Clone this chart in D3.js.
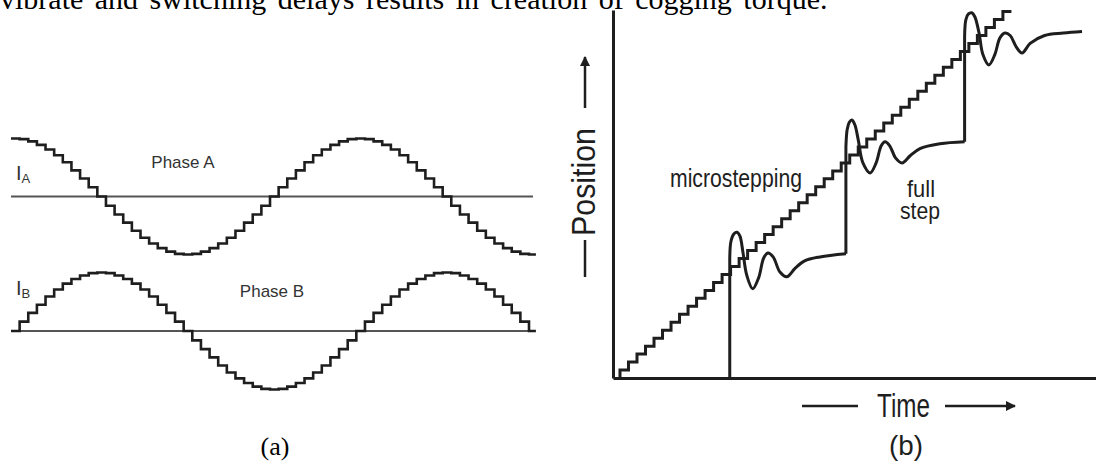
<!DOCTYPE html>
<html>
<head>
<meta charset="utf-8">
<script src="https://cdn.jsdelivr.net/npm/d3@7"></script>
<style>
  body { margin: 0; background: #fff; }
  svg { display: block; }
</style>
</head>
<body>
<div id="chart"></div>
<script>
const width = 1096;
const height = 464;

// (a) microstep index and quantised phase currents (% of peak)
const stepIndex = [0, 1, 2, 3, 4, 5, 6, 7, 8, 9, 10, 11, 12, 13, 14, 15, 16, 17, 18, 19,
  20, 21, 22, 23, 24, 25, 26, 27, 28, 29, 30, 31, 32, 33, 34, 35, 36, 37, 38, 39,
  40, 41, 42, 43, 44, 45, 46, 47, 48, 49, 50, 51, 52, 53, 54, 55, 56, 57, 58, 59, 60];
const phaseA = [100, 99, 95, 89, 81, 71, 59, 45, 31, 16, 0, -16, -31, -45, -59, -71, -81, -89, -95, -99,
  -100, -99, -95, -89, -81, -71, -59, -45, -31, -16, 0, 16, 31, 45, 59, 71, 81, 89, 95, 99,
  100, 99, 95, 89, 81, 71, 59, 45, 31, 16, 0, -16, -31, -45, -59, -71, -81, -89, -95, -99, -100];
const phaseB = [0, 16, 31, 45, 59, 71, 81, 89, 95, 99, 100, 99, 95, 89, 81, 71, 59, 45, 31, 16,
  0, -16, -31, -45, -59, -71, -81, -89, -95, -99, -100, -99, -95, -89, -81, -71, -59, -45, -31, -16,
  0, 16, 31, 45, 59, 71, 81, 89, 95, 99, 100, 99, 95, 89, 81, 71, 59, 45, 31, 16, 0];

// (b) microstepping staircase (time and position in microsteps)
const microTime = [0, 1, 2, 3, 4, 5, 6, 7, 8, 9, 10, 11, 12, 13, 14, 15, 16, 17, 18, 19, 20, 21, 22, 23,
  24, 25, 26, 27, 28, 29, 30, 31, 32, 33, 34, 35, 36, 37, 38, 39, 40, 41, 42, 43, 44, 45, 46];
const microPos = [0, 1, 2, 3, 4, 5, 6, 7, 8, 9, 10, 11, 12, 13, 14, 15, 16, 17, 18, 19, 20, 21, 22, 23,
  24, 25, 26, 27, 28, 29, 30, 31, 32, 33, 34, 35, 36, 37, 38, 39, 40, 41, 42, 43, 44, 45, 46];

// (b) full step response: each step = a straight rise, then ringing
const fullSteps = [
  {
    time: [12.9, 12.9, 13.05, 13.4, 13.75, 14.1, 14.45, 14.9, 15.6, 16.3, 16.9, 17.4, 18.0, 18.8, 19.6,
      20.6, 21.7, 23.5, 26.55],
    pos: [0, 15.0, 17.2, 18.1, 18.3, 17.8, 15.8, 12.9, 11.2, 12.6, 15.1, 15.7, 15.2, 13.3, 12.7,
      13.8, 14.7, 15.2, 15.6],
  },
  {
    time: [26.55, 26.55, 26.7, 26.95, 27.25, 27.6, 28.0, 28.55, 29.4, 30.1, 30.7, 31.15, 31.7, 32.4,
      33.15, 34.1, 35.25, 37.6, 40.5],
    pos: [15.6, 29.0, 31.2, 32.1, 32.4, 31.8, 29.9, 27.0, 25.75, 27.0, 29.15, 29.65, 29.15, 27.6,
      27.0, 27.9, 28.8, 29.4, 29.65],
  },
  {
    time: [40.5, 40.5, 40.65, 40.95, 41.35, 41.7, 42.2, 42.65, 43.35, 44.05, 44.65, 45.25, 45.85,
      46.55, 47.25, 48.2, 49.9, 52.1, 54.3],
    pos: [29.65, 42.8, 45.0, 45.7, 45.85, 45.35, 43.3, 40.6, 39.3, 40.6, 42.7, 43.3, 43.0,
      41.6, 40.8, 42.0, 43.0, 43.3, 43.5],
  },
];

const ink = "#1e1e1e";
const narrow = "'Liberation Sans Narrow', 'Liberation Sans', Arial, sans-serif";

const svg = d3
  .select("#chart")
  .append("svg")
  .attr("width", width)
  .attr("height", height);

// Running text from the page, cut at the top
svg
  .append("text")
  .attr("x", 0)
  .attr("y", 9)
  .style("font-family", "'Liberation Serif', 'Times New Roman', serif")
  .style("font-size", "30px")
  .style("word-spacing", "4px")
  .style("fill", "#000")
  .text("vibrate and switching delays results in creation of cogging torque.");

// ---------- (a) phase currents ----------
const xA = d3.scaleLinear().domain([0, 60]).range([11, 529]);
const yPhaseA = d3.scaleLinear().domain([-100, 100]).range([254.5, 138.5]);
const yPhaseB = d3.scaleLinear().domain([-100, 100]).range([389.5, 272.5]);

const phases = [
  { name: "A", values: phaseA, y: yPhaseA },
  { name: "B", values: phaseB, y: yPhaseB },
];

phases.forEach((ph) => {
  // zero line
  svg
    .append("line")
    .attr("x1", xA(0))
    .attr("x2", xA(60) + 4)
    .attr("y1", ph.y(0))
    .attr("y2", ph.y(0))
    .style("stroke", "#555")
    .style("stroke-width", 2);

  const pts = stepIndex.map((k, i) => ({ k: k, v: ph.values[i] }));
  const line = d3
    .line()
    .x((d) => xA(d.k))
    .y((d) => ph.y(d.v))
    .curve(d3.curveStepAfter);
  svg
    .append("path")
    .datum(pts.concat([{ k: 60.8, v: ph.values[60] }]))
    .attr("d", line)
    .style("fill", "none")
    .style("stroke", ink)
    .style("stroke-width", 2.6);
});

// I_A, I_B and phase labels
function currentLabel(x, y, sub) {
  const t = svg
    .append("text")
    .attr("x", x)
    .attr("y", y)
    .style("font-family", "'Liberation Sans', Arial, sans-serif")
    .style("font-size", "20px")
    .style("fill", "#333");
  t.append("tspan").text("I");
  t.append("tspan").attr("dy", 3).style("font-size", "13px").text(sub);
}
currentLabel(16, 180, "A");
currentLabel(16, 295, "B");

svg
  .append("text")
  .attr("x", 183)
  .attr("y", 168)
  .attr("text-anchor", "middle")
  .style("font-family", "'Liberation Sans', Arial, sans-serif")
  .style("font-size", "17px")
  .style("fill", "#333")
  .text("Phase A");
svg
  .append("text")
  .attr("x", 272)
  .attr("y", 297)
  .attr("text-anchor", "middle")
  .style("font-family", "'Liberation Sans', Arial, sans-serif")
  .style("font-size", "17px")
  .style("fill", "#333")
  .text("Phase B");

svg
  .append("text")
  .attr("x", 275)
  .attr("y", 455)
  .attr("text-anchor", "middle")
  .style("font-family", "'Liberation Serif', 'Times New Roman', serif")
  .style("font-size", "26px")
  .style("fill", "#000")
  .text("(a)");

// ---------- (b) position vs time ----------
const xT = d3.scaleLinear().domain([-0.82, 55.94]).range([613, 1096]);
const yP = d3.scaleLinear().domain([0, 46.2]).range([378, 10]);

const gAxes = svg.append("g");
gAxes
  .append("g")
  .attr("transform", `translate(0, ${yP(0)})`)
  .call(d3.axisBottom(xT).ticks(0).tickSizeOuter(0));
gAxes
  .append("g")
  .attr("transform", `translate(${xT.range()[0]}, 0)`)
  .call(d3.axisLeft(yP).ticks(0).tickSizeOuter(0));
gAxes.selectAll(".domain").style("stroke", ink).style("stroke-width", 3);

const microLine = d3
  .line()
  .x((d) => xT(d.t))
  .y((d) => yP(d.p))
  .curve(d3.curveStepBefore);
svg
  .append("path")
  .datum(microTime.map((t, i) => ({ t: t, p: microPos[i] })))
  .attr("d", microLine)
  .style("fill", "none")
  .style("stroke", ink)
  .style("stroke-width", 3);

// full step: straight rise (first two points) + smooth ringing
const riseLine = d3
  .line()
  .x((d) => xT(d.t))
  .y((d) => yP(d.p));
const ringLine = d3
  .line()
  .x((d) => xT(d.t))
  .y((d) => yP(d.p))
  .curve(d3.curveCatmullRom.alpha(0.5));
fullSteps.forEach((s) => {
  const pts = s.time.map((t, i) => ({ t: t, p: s.pos[i] }));
  svg
    .append("path")
    .attr("d", riseLine(pts.slice(0, 2)) + ringLine(pts.slice(1)).replace(/^M/, "L"))
    .style("fill", "none")
    .style("stroke", ink)
    .style("stroke-width", 3)
    .style("stroke-linejoin", "round");
});

// labels in (b)
function narrowText(x, y, size, len, txt, anchor) {
  return svg
    .append("text")
    .attr("x", x)
    .attr("y", y)
    .attr("text-anchor", anchor || "start")
    .attr("textLength", len)
    .attr("lengthAdjust", "spacingAndGlyphs")
    .style("font-family", narrow)
    .style("font-size", size + "px")
    .style("fill", ink)
    .text(txt);
}
narrowText(670, 187, 25, 132, "microstepping");
narrowText(907, 197, 24, 28, "full");
narrowText(900, 219, 24, 40, "step");
narrowText(877, 417, 34, 53, "Time");
narrowText(889, 455, 28, 34, "(b)");

svg
  .append("text")
  .attr("transform", "translate(595, 182) rotate(-90)")
  .attr("text-anchor", "middle")
  .attr("textLength", 108)
  .attr("lengthAdjust", "spacingAndGlyphs")
  .style("font-family", narrow)
  .style("font-size", "34px")
  .style("fill", ink)
  .text("Position");

// arrows beside the axis titles
const defs = svg.append("defs");
defs
  .append("marker")
  .attr("id", "head")
  .attr("viewBox", "0 0 10 10")
  .attr("refX", 9)
  .attr("refY", 5)
  .attr("markerWidth", 5)
  .attr("markerHeight", 4)
  .attr("markerUnits", "strokeWidth")
  .attr("orient", "auto")
  .append("path")
  .attr("d", "M0,0L10,5L0,10z")
  .style("fill", ink);

const dashes = [
  { x1: 802, y1: 406, x2: 858, y2: 406, arrow: false },
  { x1: 945, y1: 406, x2: 1015, y2: 406, arrow: true },
  { x1: 585, y1: 277, x2: 585, y2: 240, arrow: false },
  { x1: 585, y1: 108, x2: 585, y2: 57, arrow: true },
];
dashes.forEach((d) => {
  svg
    .append("line")
    .attr("x1", d.x1)
    .attr("y1", d.y1)
    .attr("x2", d.x2)
    .attr("y2", d.y2)
    .style("stroke", ink)
    .style("stroke-width", 2.5)
    .attr("marker-end", d.arrow ? "url(#head)" : null);
});
</script>
</body>
</html>
